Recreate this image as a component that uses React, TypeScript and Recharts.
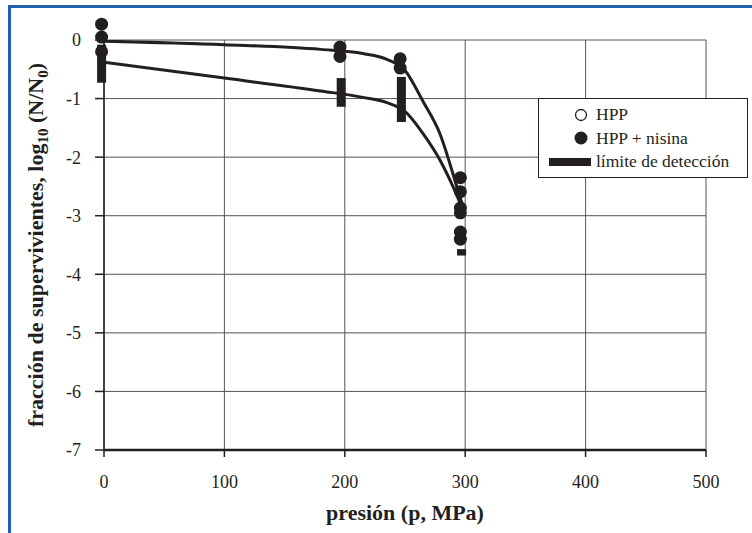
import React from "react";
import {
  CartesianGrid,
  ComposedChart,
  ErrorBar,
  Label,
  Legend,
  Line,
  Scatter,
  XAxis,
  YAxis,
} from "recharts";

const INK = "#231f20";
const SERIF = "'Liberation Serif', 'Times New Roman', serif";

const xTicks = [0, 100, 200, 300, 400, 500];
const yTicks = [-7, -6, -5, -4, -3, -2, -1, 0];

// HPP + nisina, measured points
const nisinaX = [-2, -2, -2, 196, 196, 246, 246, 296, 296, 296, 296, 296, 296];
const nisinaY = [0.27, 0.05, -0.2, -0.12, -0.28, -0.32, -0.48, -2.35, -2.59, -2.87, -2.95, -3.28, -3.4];

// detection limit, top and bottom of each bar
const limitX = [-2, 197, 247, 297];
const limitTop = [-0.08, -0.65, -0.63, -3.57];
const limitBottom = [-0.73, -1.14, -1.4, -3.68];

// fitted curves
const fitX = [0, 100, 180, 215, 235, 250, 265, 279, 293, 299];
const fitUpper = [-0.02, -0.08, -0.16, -0.23, -0.33, -0.52, -1.05, -1.6, -2.5, -2.9];
const fitLower = [-0.38, -0.65, -0.87, -0.98, -1.07, -1.22, -1.6, -2.05, -2.65, -2.95];

const legendLabels = ["HPP", "HPP + nisina", "límite de detección"];

const nisinaRows = nisinaX.map((x, i) => ({ x, y: nisinaY[i] }));
const limitRows = limitX.map((x, i) => ({
  x,
  y: (limitTop[i] + limitBottom[i]) / 2,
  err: (limitTop[i] - limitBottom[i]) / 2,
}));
const fitRows = fitX.map((x, i) => ({ x, upper: fitUpper[i], lower: fitLower[i] }));

const tickStyle = { fill: INK, fontSize: 18, fontFamily: SERIF };

function YTitle(props: any) {
  const vb = props.viewBox ?? { x: 0, y: 40, width: 104, height: 410 };
  const x = vb.x + 43;
  const y = vb.y + vb.height / 2;
  return (
    <text
      x={x}
      y={y}
      transform={`rotate(-90 ${x} ${y})`}
      textAnchor="middle"
      fill={INK}
      fontFamily={SERIF}
      fontWeight="bold"
      fontSize={22}
    >
      fracción de supervivientes, log
      <tspan dy={5} fontSize={15}>10</tspan>
      <tspan dy={-5}> (N/N</tspan>
      <tspan dy={5} fontSize={15}>0</tspan>
      <tspan dy={-5}>)</tspan>
    </text>
  );
}

function XTitle(props: any) {
  const vb = props.viewBox ?? { x: 104, y: 450, width: 602, height: 83 };
  return (
    <text
      x={vb.x + vb.width / 2}
      y={vb.y + 70}
      textAnchor="middle"
      fill={INK}
      fontFamily={SERIF}
      fontWeight="bold"
      fontSize={22}
    >
      presión (p, MPa)
    </text>
  );
}

function LegendBox() {
  return (
    <div
      style={{
        boxSizing: "border-box",
        width: 210,
        height: 80,
        border: `1.5px solid ${INK}`,
        background: "#fff",
        fontFamily: SERIF,
        fontSize: 17.5,
        color: INK,
        paddingTop: 4,
      }}
    >
      {legendLabels.map((label, i) => (
        <div key={label} style={{ display: "flex", alignItems: "center", height: 23.5 }}>
          <svg width={57} height={20} style={{ flex: "none" }}>
            {i === 0 && <circle cx={42} cy={10} r={5.5} fill="#fff" stroke={INK} strokeWidth={1.3} />}
            {i === 1 && <circle cx={42} cy={10} r={6.5} fill={INK} />}
            {i === 2 && <rect x={10} y={6} width={42} height={8} fill={INK} />}
          </svg>
          <span style={{ whiteSpace: "nowrap" }}>{label}</span>
        </div>
      ))}
    </div>
  );
}

const dotShape = (p: any) => <circle cx={p.cx} cy={p.cy} r={6.5} fill={INK} />;
const noShape = () => <g />;

export default function App() {
  return (
    <div style={{ position: "absolute", left: 0, top: 0, width: 752, height: 533, background: "#fff" }}>
      <style>{`.no-clip{clip-path:none !important;}`}</style>
      <div
        style={{
          position: "absolute",
          left: 8,
          top: 5,
          width: 760,
          height: 540,
          borderTop: "3px solid #1e5fae",
          borderLeft: "3px solid #1e5fae",
        }}
      />
      <ComposedChart width={752} height={533} margin={{ top: 40, right: 46, bottom: 0, left: 0 }}>
        <CartesianGrid stroke="#555" strokeWidth={1} />
        <XAxis
          type="number"
          dataKey="x"
          domain={[0, 500]}
          ticks={xTicks}
          allowDataOverflow
          height={83}
          tickSize={7}
          tickMargin={18}
          tick={tickStyle}
          tickLine={{ stroke: INK, strokeWidth: 1.5 }}
          axisLine={{ stroke: INK, strokeWidth: 2.5 }}
        >
          <Label content={(p: any) => <XTitle {...p} />} />
        </XAxis>
        <YAxis
          type="number"
          domain={[-7, 0]}
          ticks={yTicks}
          allowDataOverflow
          width={104}
          tickSize={9}
          tickMargin={14}
          tick={tickStyle}
          tickLine={{ stroke: INK, strokeWidth: 1.5 }}
          axisLine={{ stroke: INK, strokeWidth: 1.5 }}
        >
          <Label content={(p: any) => <YTitle {...p} />} />
        </YAxis>
        <Legend
          layout="horizontal"
          verticalAlign="middle"
          align="center"
          wrapperStyle={{ left: 538, top: 98, width: 210, height: 80 }}
          content={() => <LegendBox />}
        />
        <Line
          data={fitRows}
          dataKey="upper"
          type="monotone"
          stroke={INK}
          strokeWidth={3}
          dot={false}
          isAnimationActive={false}
        />
        <Line
          data={fitRows}
          dataKey="lower"
          type="monotone"
          stroke={INK}
          strokeWidth={3}
          dot={false}
          isAnimationActive={false}
        />
        <Scatter
          className="no-clip"
          data={limitRows}
          dataKey="y"
          shape={noShape}
          isAnimationActive={false}
        >
          <ErrorBar dataKey="err" direction="y" width={0} stroke={INK} strokeWidth={9} isAnimationActive={false} />
        </Scatter>
        <Scatter
          className="no-clip"
          data={nisinaRows}
          dataKey="y"
          shape={dotShape}
          isAnimationActive={false}
        />
      </ComposedChart>
    </div>
  );
}
